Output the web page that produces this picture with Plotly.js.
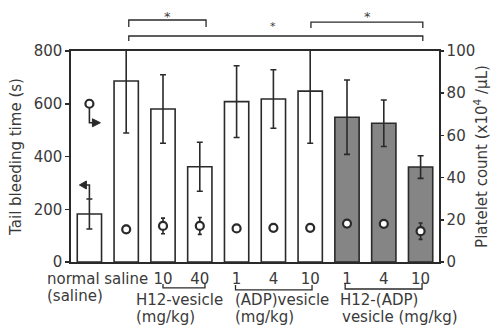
<!DOCTYPE html>
<html>
<head>
<meta charset="utf-8">
<script src="https://cdn.plot.ly/plotly-3.0.1.min.js"></script>
<style>html,body{margin:0;padding:0;background:#fff;}#chart{width:491px;height:326px;}</style>
</head>
<body>
<div id="chart"></div>
<script>
// ---- data ----
const groups = ['normal', 'saline', 'H12-vesicle 10', 'H12-vesicle 40', '(ADP)vesicle 1', '(ADP)vesicle 4', '(ADP)vesicle 10', 'H12-(ADP)vesicle 1', 'H12-(ADP)vesicle 4', 'H12-(ADP)vesicle 10'];
const tickLabels = ['normal', 'saline', '10', '40', '1', '4', '10', '1', '4', '10'];
const bleedingTime = [182, 686, 580, 361, 608, 618, 648, 549, 526, 360];
const bleedingErr = [57, 197, 130, 93, 136, 111, 198, 141, 88, 43];
const plateletCount = [75, 15.5, 17.1, 17.1, 15.9, 16.2, 16.2, 18.2, 18.1, 14.6];
const plateletErr = [0, 1.8, 3.7, 4.0, 0, 0, 0, 0, 0, 3.9];
const barFill = ['#ffffff', '#ffffff', '#ffffff', '#ffffff', '#ffffff', '#ffffff', '#ffffff', '#858585', '#858585', '#858585'];

// ---- drawing ----
const ink = '#2a2a2a';
const txt = '#3a3a3a';
const FONT = 'DejaVu Sans, sans-serif';
const idx = groups.map((_, i) => i);

const traces = [
  {
    type: 'bar', x: idx, y: bleedingTime,
    marker: {color: barFill, line: {color: ink, width: 1.6}},
    error_y: {type: 'data', array: bleedingErr, visible: true, color: ink, thickness: 1.6, width: 3},
    hoverinfo: 'skip', showlegend: false
  },
  {
    type: 'scatter', mode: 'markers', x: idx, y: plateletCount, yaxis: 'y2',
    marker: {symbol: 'circle', size: 8, color: '#ffffff', line: {color: ink, width: 2.2}},
    error_y: {type: 'data', array: plateletErr, visible: true, color: ink, thickness: 1.6, width: 2},
    hoverinfo: 'skip', showlegend: false
  }
];

function bracket(xa, xb, yLine, yEnd) {
  return {type: 'path', xref: 'x', yref: 'paper', layer: 'above',
    path: `M${xa},${yEnd} L${xa},${yLine} L${xb},${yLine} L${xb},${yEnd}`,
    line: {color: ink, width: 1.3}};
}

const shapes = [
  // significance brackets on top
  bracket(1.07, 3.17, 1.147, 1.114),
  bracket(1.07, 9.06, 1.071, 1.047),
  bracket(6.02, 9.06, 1.137, 1.109),
  // group brackets under the axis
  bracket(2.0, 3.14, -0.123, -0.104),
  bracket(3.97, 6.05, -0.132, -0.109),
  bracket(6.95, 9.04, -0.128, -0.100),
  // axis indicators of the "normal" group
  {type: 'path', xref: 'x', yref: 'y2', xsizemode: 'pixel', ysizemode: 'pixel',
   xanchor: 0, yanchor: plateletCount[0], path: 'M0,-4 L0,-19 L4,-19',
   line: {color: ink, width: 1.6}},
  {type: 'path', xref: 'x', yref: 'y2', xsizemode: 'pixel', ysizemode: 'pixel',
   xanchor: 0, yanchor: plateletCount[0], path: 'M3,-15 L11,-19 L3,-23 Z',
   fillcolor: ink, line: {color: ink, width: 1}},
  {type: 'path', xref: 'x', yref: 'y', xsizemode: 'pixel', ysizemode: 'pixel',
   xanchor: 0, yanchor: bleedingTime[0] + bleedingErr[0], path: 'M-3,14 L0,14 L0,0',
   line: {color: ink, width: 1.6}},
  {type: 'path', xref: 'x', yref: 'y', xsizemode: 'pixel', ysizemode: 'pixel',
   xanchor: 0, yanchor: bleedingTime[0] + bleedingErr[0], path: 'M-3,18 L-10,14 L-3,10 Z',
   fillcolor: ink, line: {color: ink, width: 1}}
];

function label(text, x, y, anchor, size, xshift) {
  return {text: text, x: x, y: y, xref: 'x', yref: 'paper', showarrow: false,
    xanchor: anchor || 'left', yanchor: 'middle', xshift: xshift || 0, align: 'left',
    font: {family: FONT, size: size || 15, color: txt}};
}

const annotations = [
  label('*', 2.12, 1.165, 'center', 13),
  label('*', 4.99, 1.115, 'center', 11),
  label('*', 7.57, 1.165, 'center', 13),
  label(tickLabels[0], 0, -0.079, 'left', 15, -44),
  label('(saline)', 0, -0.160, 'left', 15, -44),
  label('H12-vesicle', 1.2, -0.18),
  label('(mg/kg)', 1.2, -0.26),
  label('(ADP)vesicle', 3.9, -0.18),
  label('(mg/kg)', 3.9, -0.26),
  label('H12-(ADP)', 6.76, -0.18),
  label('vesicle (mg/kg)', 6.8, -0.26)
];

const layout = {
  width: 491, height: 326,
  margin: {l: 71, r: 52, t: 51, b: 64, pad: 0},
  paper_bgcolor: '#ffffff', plot_bgcolor: '#ffffff',
  font: {family: FONT, size: 15, color: txt},
  showlegend: false,
  bargap: 0.34,
  xaxis: {
    range: [-0.5, 9.5], tickmode: 'array', tickvals: idx.slice(1), ticktext: tickLabels.slice(1),
    showline: true, mirror: true, linecolor: ink, linewidth: 1.6,
    ticks: 'outside', ticklen: 2, tickcolor: 'rgba(0,0,0,0)',
    showgrid: false, zeroline: false, tickfont: {family: FONT, size: 15, color: txt}
  },
  yaxis: {
    range: [0, 800], tickmode: 'array', tickvals: [0, 200, 400, 600, 800],
    showline: true, linecolor: ink, linewidth: 1.6,
    ticks: 'outside', ticklen: 4, tickwidth: 1.5, tickcolor: ink,
    showgrid: false, zeroline: false, tickfont: {family: FONT, size: 15, color: txt},
    title: {text: 'Tail bleeding time (s)', font: {family: FONT, size: 15, color: txt}, standoff: 8}
  },
  yaxis2: {
    overlaying: 'y', side: 'right', range: [0, 100], tickmode: 'array', tickvals: [0, 20, 40, 60, 80, 100],
    showline: true, linecolor: ink, linewidth: 1.6,
    ticks: 'outside', ticklen: 3, tickwidth: 1.5, tickcolor: ink,
    showgrid: false, zeroline: false, tickfont: {family: FONT, size: 15, color: txt},
    title: {text: 'Platelet count (x10<sup>4</sup> /µL)', font: {family: FONT, size: 15, color: txt}, standoff: 4}
  },
  shapes: shapes,
  annotations: annotations
};

Plotly.newPlot('chart', traces, layout, {staticPlot: true, displayModeBar: false});
</script>
</body>
</html>
